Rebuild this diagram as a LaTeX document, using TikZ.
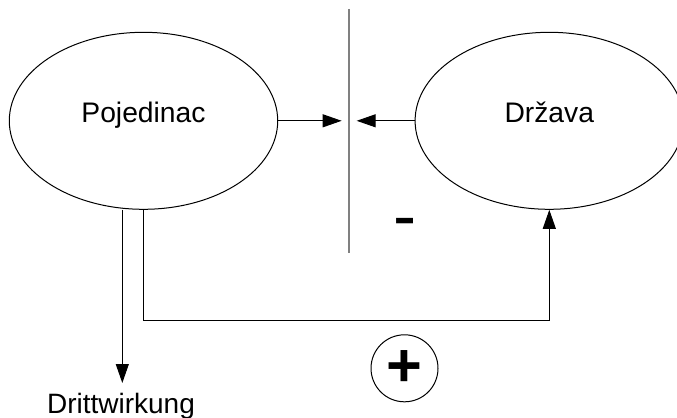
\documentclass[tikz,border=0pt]{standalone}
\usepackage{fontspec}
\setmainfont{Liberation Sans}
\usetikzlibrary{arrows.meta, shapes.geometric}

\begin{document}
\begin{tikzpicture}[x=0.75pt, y=-0.75pt,
  party/.style={draw, ellipse, line width=0.75pt, minimum width=201.3pt, minimum height=132.75pt,
    inner sep=0pt, font=\fontsize{21.2pt}{24pt}\selectfont, text height=0.75em, text depth=0.47em},
  arr/.style={line width=0.75pt, -{Triangle[length=14.25pt, width=9.75pt]}}]
\clip (0,0) rectangle (677,417);
% Parties
\node[party] (pj) at (143.5,120.8) {Pojedinac};
\node[party] (dr) at (549.3,120.8) {Država};

% Barrier between them
\coordinate (bartop) at (349,9);
\coordinate (barbot) at (349,253);
\draw[line width=1.1pt, gray] (bartop) -- (barbot);
\draw[arr] (pj.east) -- ([xshift=-5.5pt]bartop |- pj.east);
\draw[arr] (dr.west) -- ([xshift=5.75pt]bartop |- dr.west);
\node[font=\fontsize{52pt}{52pt}\selectfont, anchor=base] (minus) at (405.3,239) {-};

% Feedback loop
\draw[arr] (pj.south) -- ++(0,111) -| (dr.south);
\node[draw, circle, line width=0.75pt, minimum size=50.25pt, inner sep=0pt,
  font=\fontsize{46pt}{46pt}\selectfont\bfseries] (plus) at (404.5,368.3) {+};

% Third-party effect
\coordinate (dritend) at (122.3,383);
\draw[arr] (pj.south -| dritend) -- (dritend);
\node[font=\fontsize{21pt}{24pt}\selectfont, anchor=base] (drit) at (121,413) {Drittwirkung};
\end{tikzpicture}
\end{document}
